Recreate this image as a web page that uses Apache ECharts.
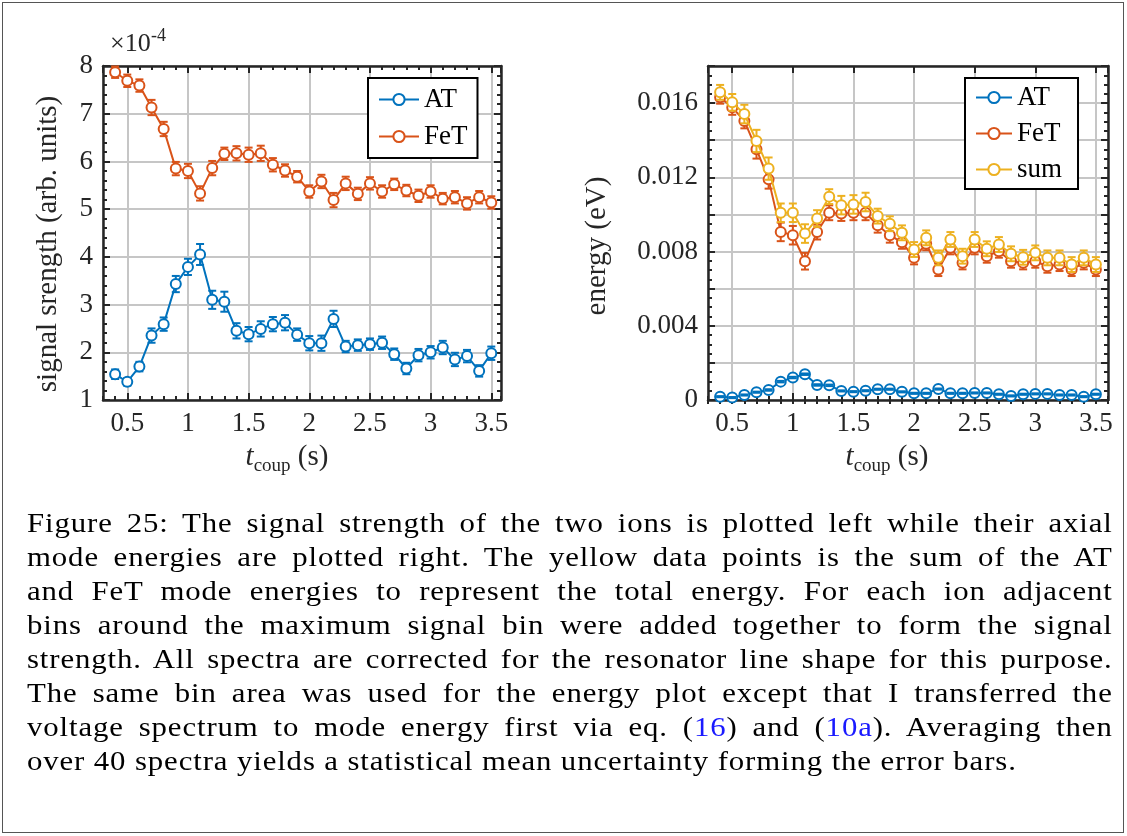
<!DOCTYPE html>
<html>
<head>
<meta charset="utf-8">
<script src="https://cdn.jsdelivr.net/npm/echarts@6/dist/echarts.min.js"></script>
<style>
  html, body { margin: 0; padding: 0; background: #fff; }
  #page { position: relative; width: 1127px; height: 836px; overflow: hidden; }
  #chart { position: absolute; left: 0; top: 0; width: 1127px; height: 500px; }
  #frame { position: absolute; left: 2px; top: 2px; width: 1120px; height: 829px; border: 1.5px solid #555; }
  #caption {
    position: absolute; left: 27px; top: 506px; width: 987px;
    transform: scaleX(1.1); transform-origin: 0 0;
    font-family: 'Liberation Serif', serif; font-size: 28px; line-height: 34px;
    color: #000; letter-spacing: 0.8px;
  }
  #caption div { text-align: justify; text-align-last: justify; white-space: nowrap; }
  #caption div.last { text-align-last: left; }
  .ref { color: #1a1aff; }
</style>
</head>
<body>
<div id="page">
  <div id="chart"></div>
  <div id="frame"></div>
  <div id="caption">
    <div>Figure 25: The signal strength of the two ions is plotted left while their axial</div>
    <div>mode energies are plotted right. The yellow data points is the sum of the AT</div>
    <div>and FeT mode energies to represent the total energy. For each ion adjacent</div>
    <div>bins around the maximum signal bin were added together to form the signal</div>
    <div>strength. All spectra are corrected for the resonator line shape for this purpose.</div>
    <div>The same bin area was used for the energy plot except that I transferred the</div>
    <div>voltage spectrum to mode energy first via eq. (<span class="ref">16</span>) and (<span class="ref">10a</span>). Averaging then</div>
    <div class="last">over 40 spectra yields a statistical mean uncertainty forming the error bars.</div>
  </div>
</div>
<script>
// coupling times (s)
const tCoup = [0.4, 0.5, 0.6, 0.7, 0.8, 0.9, 1.0, 1.1, 1.2, 1.3, 1.4, 1.5, 1.6, 1.7, 1.8, 1.9,
  2.0, 2.1, 2.2, 2.3, 2.4, 2.5, 2.6, 2.7, 2.8, 2.9, 3.0, 3.1, 3.2, 3.3, 3.4, 3.5]

// signal strength, in units of 1e-4
const sigAT = [1.54, 1.38, 1.70, 2.35, 2.59, 3.43, 3.79, 4.05, 3.10, 3.06, 2.45, 2.38, 2.49, 2.59, 2.62, 2.37,
  2.19, 2.19, 2.70, 2.12, 2.15, 2.17, 2.20, 1.96, 1.66, 1.94, 2.00, 2.10, 1.85, 1.92, 1.61, 1.98]
const sigATErr = [0.10, 0.08, 0.10, 0.15, 0.14, 0.17, 0.17, 0.22, 0.19, 0.21, 0.16, 0.15, 0.16, 0.15, 0.16, 0.13,
  0.15, 0.16, 0.17, 0.12, 0.12, 0.12, 0.13, 0.12, 0.12, 0.13, 0.13, 0.14, 0.14, 0.13, 0.12, 0.14]
const sigFeT = [7.87, 7.69, 7.59, 7.13, 6.68, 5.85, 5.80, 5.33, 5.86, 6.16, 6.17, 6.14, 6.17, 5.93, 5.81, 5.68,
  5.37, 5.58, 5.19, 5.54, 5.32, 5.54, 5.37, 5.52, 5.39, 5.28, 5.37, 5.22, 5.25, 5.12, 5.25, 5.14]
const sigFeTErr = [0.12, 0.13, 0.13, 0.16, 0.15, 0.14, 0.15, 0.15, 0.15, 0.13, 0.15, 0.15, 0.16, 0.14, 0.13, 0.12,
  0.13, 0.14, 0.15, 0.14, 0.13, 0.13, 0.13, 0.12, 0.12, 0.13, 0.13, 0.12, 0.13, 0.13, 0.13, 0.13]

// mode energies (eV)
const enAT = [0.00018, 0.00013, 0.00027, 0.00042, 0.00054, 0.00099, 0.00121, 0.00139, 0.00081, 0.00079, 0.00049, 0.00045, 0.00050, 0.00058, 0.00058, 0.00044,
  0.00036, 0.00036, 0.00059, 0.00036, 0.00036, 0.00038, 0.00038, 0.00031, 0.00022, 0.00031, 0.00033, 0.00033, 0.00027, 0.00027, 0.00018, 0.00031]
const enATErr = [0.00003, 0.00003, 0.00003, 0.00003, 0.00004, 0.00004, 0.00004, 0.00004, 0.00004, 0.00004, 0.00003, 0.00003, 0.00003, 0.00003, 0.00003, 0.00003,
  0.00003, 0.00003, 0.00003, 0.00003, 0.00003, 0.00003, 0.00003, 0.00003, 0.00003, 0.00003, 0.00003, 0.00003, 0.00003, 0.00003, 0.00003, 0.00003]
const enFeT = [0.01632, 0.01577, 0.01504, 0.01351, 0.01189, 0.00906, 0.00888, 0.00748, 0.00905, 0.01009, 0.01005, 0.01009, 0.01009, 0.00942, 0.00888, 0.00850,
  0.00766, 0.00842, 0.00703, 0.00820, 0.00739, 0.00820, 0.00775, 0.00802, 0.00748, 0.00739, 0.00748, 0.00721, 0.00730, 0.00703, 0.00739, 0.00703]
const enFeTErr = [0.00035, 0.0004, 0.0004, 0.0005, 0.0005, 0.0005, 0.0005, 0.00045, 0.0004, 0.0004, 0.0004, 0.0004, 0.0004, 0.0004, 0.0004, 0.00035,
  0.00035, 0.00035, 0.00035, 0.00035, 0.00035, 0.00035, 0.00035, 0.00035, 0.00035, 0.00035, 0.00035, 0.00035, 0.00035, 0.00035, 0.00035, 0.00035]
const enSum = [0.01658, 0.01604, 0.01541, 0.01396, 0.01247, 0.01009, 0.01009, 0.00897, 0.00978, 0.01096, 0.01050, 0.01054, 0.01067, 0.00991, 0.00950, 0.00901,
  0.00811, 0.00874, 0.00766, 0.00865, 0.00775, 0.00865, 0.00815, 0.00838, 0.00788, 0.00769, 0.00793, 0.00766, 0.00766, 0.00730, 0.00766, 0.00730]
const enSumErr = [0.0004, 0.00045, 0.0005, 0.0006, 0.0006, 0.0005, 0.0005, 0.0005, 0.00045, 0.0004, 0.0005, 0.0005, 0.0005, 0.0004, 0.0004, 0.0004,
  0.0004, 0.0004, 0.0004, 0.0004, 0.0004, 0.0004, 0.0004, 0.0004, 0.0004, 0.0004, 0.0004, 0.0004, 0.0004, 0.0004, 0.0004, 0.0004]

const BLUE = '#0072BD'
const ORANGE = '#D95319'
const YELLOW = '#EDB120'
const INK = '#262626'
const GRIDC = '#c6c6c6'
const FONT = 'Liberation Serif'

const chart = echarts.init(document.getElementById('chart'))

function renderErr(params, api) {
  const hi = api.coord([api.value(0), api.value(2)])
  const lo = api.coord([api.value(0), api.value(1)])
  const w = 4
  const c = api.visual('color')
  const st = () => ({ stroke: c, lineWidth: 2 })
  return {
    type: 'group',
    children: [
      { type: 'line', shape: { x1: hi[0], y1: hi[1], x2: lo[0], y2: lo[1] }, style: st() },
      { type: 'line', shape: { x1: hi[0] - w, y1: hi[1], x2: hi[0] + w, y2: hi[1] }, style: st() },
      { type: 'line', shape: { x1: lo[0] - w, y1: lo[1], x2: lo[0] + w, y2: lo[1] }, style: st() }
    ]
  }
}

function errSeries(vals, errs, color, xi, yi, z) {
  return {
    type: 'custom',
    xAxisIndex: xi,
    yAxisIndex: yi,
    renderItem: renderErr,
    itemStyle: { color: color },
    encode: { x: 0, y: [1, 2] },
    data: tCoup.map((t, i) => [t, vals[i] - errs[i], vals[i] + errs[i]]),
    silent: true,
    z: z
  }
}

function lineSeries(name, vals, color, xi, yi, z) {
  return {
    name: name,
    type: 'line',
    xAxisIndex: xi,
    yAxisIndex: yi,
    data: tCoup.map((t, i) => [t, vals[i]]),
    symbol: 'emptyCircle',
    symbolSize: 10,
    lineStyle: { color: color, width: 2 },
    itemStyle: { color: color, borderWidth: 2 },
    z: z
  }
}

// major x axis (0.5 steps, ticks on multiples) and a minor one (0.1 steps)
function xMajor(gi, pos, min, max, labels) {
  return {
    type: 'value', gridIndex: gi, position: pos, min: min, max: max,
    minInterval: 0.5, maxInterval: 0.5,
    axisLine: { show: true, onZero: false, lineStyle: { color: INK, width: 2.5 } },
    axisTick: { show: true, inside: true, length: 7, lineStyle: { color: INK, width: 2 } },
    axisLabel: {
      show: labels, showMinLabel: false, showMaxLabel: false, margin: 10,
      fontFamily: FONT, fontSize: 27, color: INK
    },
    splitLine: { show: labels, lineStyle: { color: GRIDC, width: 2 } }
  }
}
function xMinor(gi, pos, min, max) {
  return {
    type: 'value', gridIndex: gi, position: pos, min: min, max: max, interval: 0.1,
    axisLine: { show: false },
    axisTick: { show: true, inside: true, length: 4, lineStyle: { color: INK, width: 2 } },
    axisLabel: { show: false },
    splitLine: { show: false }
  }
}
function yAxis(gi, pos, min, max, interval, minorSplit, labels, fmt) {
  return {
    type: 'value', gridIndex: gi, position: pos, min: min, max: max, interval: interval,
    axisLine: { show: true, onZero: false, lineStyle: { color: INK, width: 2.5 } },
    axisTick: { show: true, inside: true, length: 7, lineStyle: { color: INK, width: 2 } },
    minorTick: { show: true, splitNumber: minorSplit, length: 4, lineStyle: { color: INK, width: 2 } },
    axisLabel: {
      show: labels, margin: 10, fontFamily: FONT, fontSize: 27, color: INK,
      formatter: fmt
    },
    splitLine: { show: labels, lineStyle: { color: GRIDC, width: 2 } }
  }
}

const energyFmt = v => {
  const k = v / 0.004
  if (Math.abs(k - Math.round(k)) > 1e-6) return ''
  return v === 0 ? '0' : v.toFixed(3)
}

const legendBase = {
  orient: 'vertical',
  backgroundColor: '#fff',
  borderColor: '#000',
  borderWidth: 2,
  itemWidth: 40,
  itemHeight: 14,
  z: 20,
  textStyle: { fontFamily: FONT, fontSize: 27, color: '#000' }
}

const xLabelRich = {
  i: { fontFamily: FONT, fontSize: 29, fontStyle: 'italic', lineHeight: 34, verticalAlign: 'top', color: INK },
  s: { fontFamily: FONT, fontSize: 19, lineHeight: 22, padding: [14, 0, 0, 0], verticalAlign: 'top', color: INK },
  n: { fontFamily: FONT, fontSize: 29, lineHeight: 34, verticalAlign: 'top', color: INK }
}

chart.setOption({
  animation: false,
  grid: [
    { left: 103, top: 66, width: 398, height: 334, outerBoundsMode: 'none' },
    { left: 708, top: 66, width: 400, height: 334, outerBoundsMode: 'none' }
  ],
  xAxis: [
    xMajor(0, 'bottom', 0.3, 3.58, true),
    xMinor(0, 'bottom', 0.3, 3.58),
    xMajor(0, 'top', 0.3, 3.58, false),
    xMinor(0, 'top', 0.3, 3.58),
    xMajor(1, 'bottom', 0.3, 3.6, true),
    xMinor(1, 'bottom', 0.3, 3.6),
    xMajor(1, 'top', 0.3, 3.6, false),
    xMinor(1, 'top', 0.3, 3.6)
  ],
  yAxis: [
    yAxis(0, 'left', 1, 8, 1, 5, true),
    yAxis(0, 'right', 1, 8, 1, 5, false),
    yAxis(1, 'left', 0, 0.018, 0.002, 4, true, energyFmt),
    yAxis(1, 'right', 0, 0.018, 0.002, 4, false)
  ],
  legend: [
    Object.assign({}, legendBase, {
      left: 368, top: 78, padding: [8, 10, 8, 10], itemGap: 10,
      data: ['AT', 'FeT']
    }),
    Object.assign({}, legendBase, {
      left: 965, top: 78, padding: [6, 16, 6, 10], itemGap: 9, itemWidth: 36,
      data: ['AT', 'FeT', 'sum']
    })
  ],
  graphic: [
    { type: 'text', x: 110, y: 57, style: { text: '×10', font: '26px "Liberation Serif"', fill: INK, verticalAlign: 'bottom' } },
    { type: 'text', x: 151, y: 45, style: { text: '-4', font: '18px "Liberation Serif"', fill: INK, verticalAlign: 'bottom' } },
    {
      type: 'text', x: 48, y: 244, rotation: Math.PI / 2,
      style: { text: 'signal srength (arb. units)', font: '29px "Liberation Serif"', fill: INK, align: 'center', verticalAlign: 'middle' }
    },
    {
      type: 'text', x: 597, y: 246, rotation: Math.PI / 2,
      style: { text: 'energy (eV)', font: '29px "Liberation Serif"', fill: INK, align: 'center', verticalAlign: 'middle' }
    },
    {
      type: 'text', x: 287, y: 460,
      style: { text: '{i|t}{s|coup}{n| (s)}', rich: xLabelRich, align: 'center', verticalAlign: 'middle', fill: INK }
    },
    {
      type: 'text', x: 887, y: 460,
      style: { text: '{i|t}{s|coup}{n| (s)}', rich: xLabelRich, align: 'center', verticalAlign: 'middle', fill: INK }
    }
  ],
  series: [
    errSeries(sigAT, sigATErr, BLUE, 0, 0, 3),
    lineSeries('AT', sigAT, BLUE, 0, 0, 4),
    errSeries(sigFeT, sigFeTErr, ORANGE, 0, 0, 5),
    lineSeries('FeT', sigFeT, ORANGE, 0, 0, 6),

    // AT energy bars are tiny: caps sit on top of the markers
    lineSeries('AT', enAT, BLUE, 4, 2, 4),
    errSeries(enAT, enATErr, BLUE, 4, 2, 4.5),
    errSeries(enFeT, enFeTErr, ORANGE, 4, 2, 5),
    lineSeries('FeT', enFeT, ORANGE, 4, 2, 6),
    errSeries(enSum, enSumErr, YELLOW, 4, 2, 7),
    lineSeries('sum', enSum, YELLOW, 4, 2, 8)
  ]
})
</script>
</body>
</html>
